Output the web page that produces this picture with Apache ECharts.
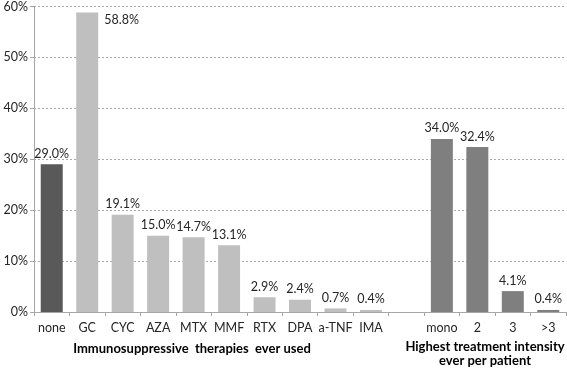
<!DOCTYPE html>
<html><head><meta charset="utf-8">
<script src="https://cdn.jsdelivr.net/npm/echarts@6/dist/echarts.min.js"></script>
<style>html,body{margin:0;padding:0;background:#fff}#c{width:567px;height:368px}</style>
</head><body><div id="c"></div>
<script>
var categories = ['none','GC','CYC','AZA','MTX','MMF','RTX','DPA','a-TNF','IMA','','mono','2','3','>3'];
var values = [29.0,58.8,19.1,15.0,14.7,13.1,2.9,2.4,0.7,0.4,null,34.0,32.4,4.1,0.4];
var groups = ['none','ther','ther','ther','ther','ther','ther','ther','ther','ther','gap','int','int','int','int'];
var yTicks = [0,10,20,30,40,50,60];
var groupTitles = ['Immunosuppressive  therapies  ever used', 'Highest treatment intensity\never per patient'];
var colors = {none:'#595959', ther:'#bfbfbf', int:'#7f7f7f', gap:'#ffffff'};
var font = 'Lato, sans-serif';

var chart = echarts.init(document.getElementById('c'));
var data = values.map(function(v,i){
  var item = {value: v, itemStyle:{color: colors[groups[i]]}};
  if (v === 58.8) item.label = {position:[28,1], verticalAlign:'top', align:'left'};
  return item;
});
chart.setOption({
  animation:false,
  grid:{left:34, right:1, top:5, bottom:56, containLabel:false},
  xAxis:{type:'category', data:categories, boundaryGap:true,
    axisLine:{lineStyle:{color:'#a6a6a6', width:1}},
    axisTick:{show:true, interval:0, length:4, lineStyle:{color:'#a6a6a6'}},
    axisLabel:{interval:0, color:'#262626', fontSize:12.5, fontFamily:font, margin:9}},
  yAxis:{type:'value', min:yTicks[0], max:yTicks[yTicks.length-1], interval:10,
    axisLine:{show:true, lineStyle:{color:'#a6a6a6'}},
    axisTick:{show:true, length:4, lineStyle:{color:'#a6a6a6'}},
    axisLabel:{color:'#262626', fontSize:12.5, fontFamily:font, margin:6,
      formatter:function(v){return v+'%';}},
    splitLine:{lineStyle:{color:'#ababab', type:[2,2]}}},
  series:[{type:'bar', data:data, barWidth:'62%',
    label:{show:true, position:'top', distance:4, color:'#262626', fontSize:12.5, fontFamily:font,
      formatter:function(p){return p.value==null?'':p.value.toFixed(1)+'%';}}}],
  graphic:[
    {type:'text', x:192, y:349, style:{text:groupTitles[0], align:'center', verticalAlign:'middle',
      fontSize:13, fontWeight:'bold', fontFamily:font, fill:'#000'}},
    {type:'text', x:485, y:354, style:{text:groupTitles[1], align:'center', verticalAlign:'middle',
      fontSize:13, fontWeight:'bold', fontFamily:font, fill:'#000', lineHeight:14}}
  ]
});
</script></body></html>
